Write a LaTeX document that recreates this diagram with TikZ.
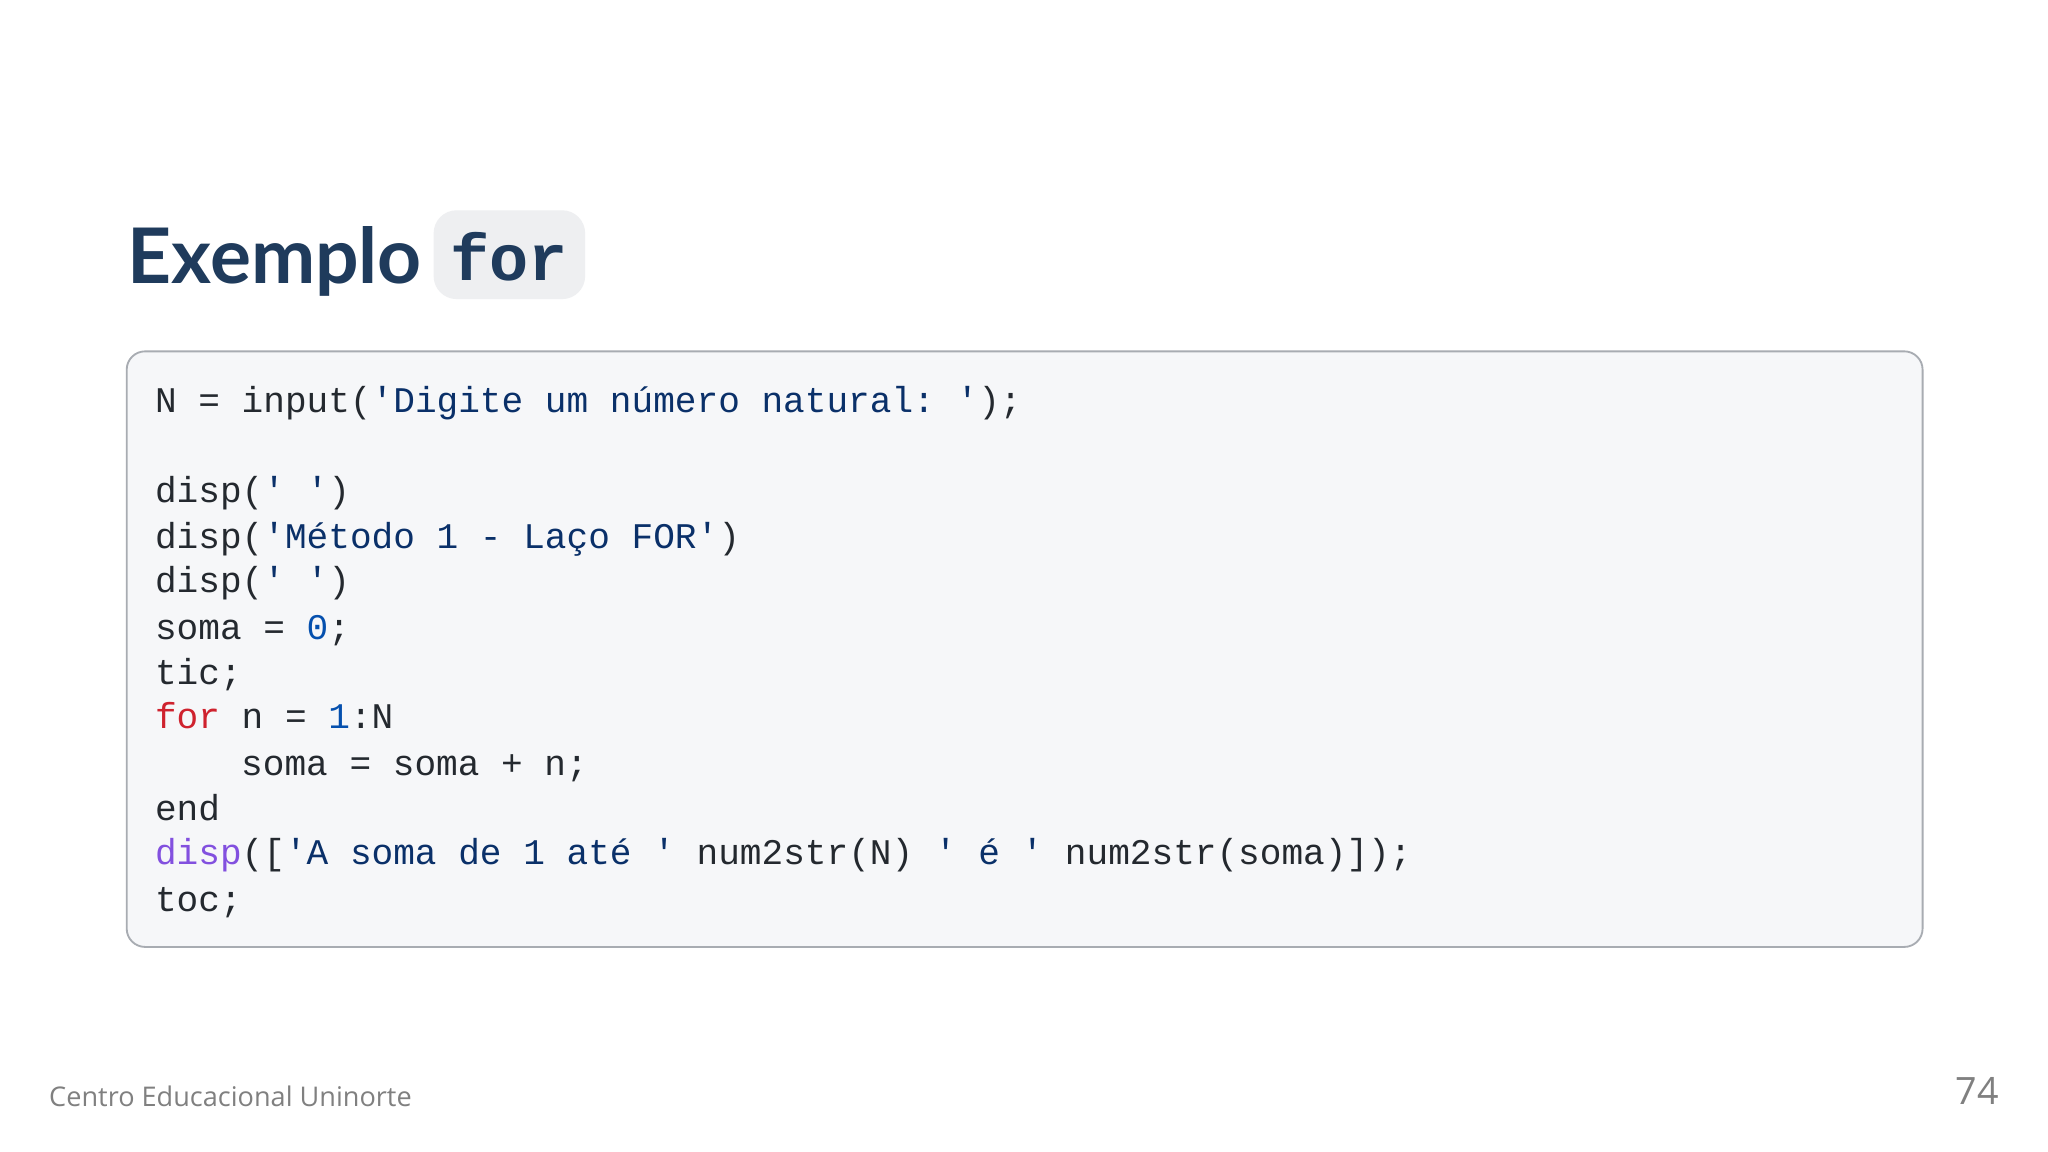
\documentclass[tikz,border=0pt]{standalone}
\usepackage{fontspec}
\setmainfont{Open Sans}
\setmonofont{Liberation Mono}
\newfontfamily\ttlfont{Lato}
\definecolor{ttl}{HTML}{1F3B5C}
\definecolor{codebg}{HTML}{F6F7F9}
\definecolor{tagbg}{HTML}{EEEFF1}
\definecolor{codebd}{HTML}{A8ACB2}
\definecolor{txt}{HTML}{24292F}
\definecolor{str}{HTML}{0A3069}
\definecolor{num}{HTML}{0550AE}
\definecolor{kw}{HTML}{CF222E}
\definecolor{fn}{HTML}{8250DF}
\newcommand{\sq}{\char39}
\begin{document}
\begin{tikzpicture}[x=0.01cm,y=-0.01cm,
  cl/.style={anchor=base west,inner sep=0,font=\ttfamily\fontsize{7.86}{9.8}\selectfont,text=txt}]
\useasboundingbox (0,0) rectangle (1568,882);
\fill[white] (0,0) rectangle (1568,882);
\fill[tagbg, rounded corners=5pt] (332,161) rectangle (448,229);
\node[anchor=base west,inner sep=0,text=ttl,font=\ttlfont\fontsize{16.7}{20}\selectfont\bfseries] (t1) at (97,217) {Exemplo};
\node[anchor=base west,inner sep=0,text=ttl,font=\ttfamily\fontsize{14.2}{20}\selectfont\bfseries] (t2) at (344,215) {for};
\draw[codebd,fill=codebg,rounded corners=4pt,line width=0.4pt] (97,269) rectangle (1472,725);
\node[cl] (l1) at (118,316) {N = input(\textcolor{str}{\sq Digite um número natural: \sq});};
\node[cl] (l2) at (118,385) {disp(\textcolor{str}{\sq\ \sq})};
\node[cl] (l3) at (118,420) {disp(\textcolor{str}{\sq Método 1 - Laço FOR\sq})};
\node[cl] (l4) at (118,454) {disp(\textcolor{str}{\sq\ \sq})};
\node[cl] (l5) at (118,490) {soma = \textcolor{num}{0};};
\node[cl] (l6) at (118,524) {tic;};
\node[cl] (l7) at (118,558) {\textcolor{kw}{for} n = \textcolor{num}{1}:N};
\node[cl] (l8) at (184,594) {soma = soma + n;};
\node[cl] (l9) at (118,628) {end};
\node[cl] (l10) at (118,662) {\textcolor{fn}{disp}([\textcolor{str}{\sq A soma de 1 até \sq} num2str(N) \textcolor{str}{\sq\ é \sq} num2str(soma)]);};
\node[cl] (l11) at (118,698) {toc;};
\node[anchor=base west,inner sep=0,text=gray,font=\fontsize{5.9}{8}\selectfont] (f1) at (37,847) {Centro Educacional Uninorte};
\node[anchor=base east,inner sep=0,text=gray,font=\fontsize{8.2}{10}\selectfont] (f2) at (1531,846) {74};
\end{tikzpicture}
\end{document}
